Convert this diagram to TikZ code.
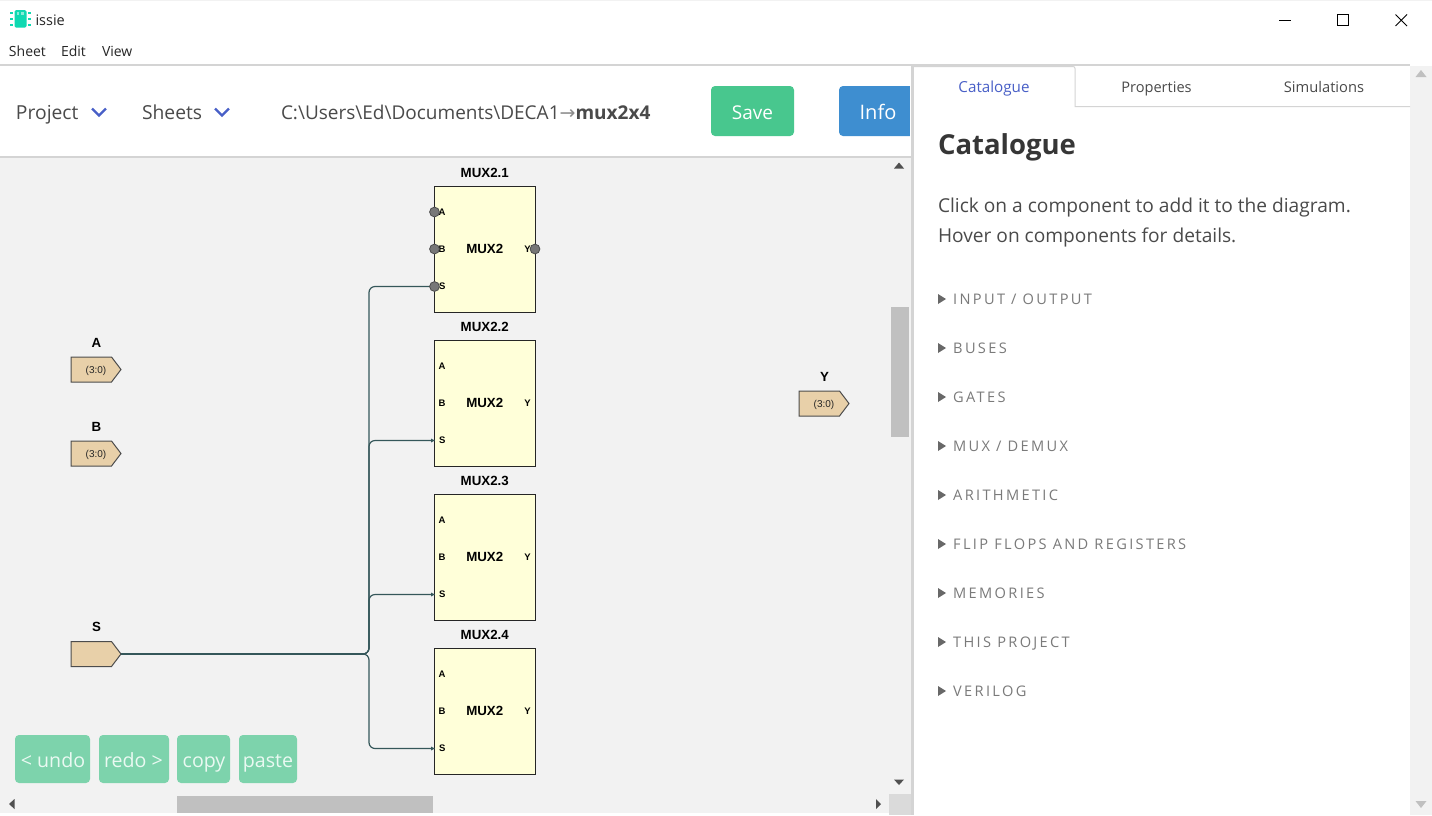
\documentclass[tikz,border=0pt]{standalone}
\usepackage{fontspec}
\setmainfont{Open Sans}
\newfontfamily\diafont{Liberation Sans}
\newfontfamily\arrfont{DejaVu Sans}
\usetikzlibrary{calc}
\definecolor{canvasbg}{HTML}{F2F2F2}
\definecolor{rulegrey}{HTML}{D4D4D4}
\definecolor{thumbgrey}{HTML}{C0C0C0}
\definecolor{txt}{HTML}{4A4A4A}
\definecolor{head}{HTML}{363636}
\definecolor{chev}{HTML}{485FC7}
\definecolor{saveg}{HTML}{48C78E}
\definecolor{infob}{HTML}{3E8ED0}
\definecolor{btn}{HTML}{7DD3AC}
\definecolor{btntxt}{HTML}{EAF9F2}
\definecolor{muxfill}{HTML}{FFFFD9}
\definecolor{ioFill}{HTML}{E8D0A9}
\definecolor{wirec}{HTML}{35575A}
\definecolor{portc}{HTML}{777777}
\definecolor{teal}{HTML}{0FD9B2}
\definecolor{itemc}{HTML}{7A7A7A}
\definecolor{arrowc}{HTML}{505050}
\tikzset{
  txtnode/.style={inner sep=0pt,outer sep=0pt,anchor=base west,text=txt},
  ctrtxt/.style={inner sep=0pt,outer sep=0pt,anchor=base,text=txt},
  muxbox/.style={draw=black!85,fill=muxfill,line width=1pt,minimum width=100.5pt,minimum height=125.5pt,inner sep=0pt,outer sep=0pt},
  muxname/.style={inner sep=0pt,anchor=base,font=\diafont\bfseries\fontsize{13.3}{14}\selectfont,text=black},
  muxport/.style={inner sep=0pt,anchor=base,font=\diafont\bfseries\fontsize{9.5}{10}\selectfont,text=black},
  ioshape/.style={draw=black!70,fill=ioFill,line width=1pt,line join=miter},
  ioname/.style={inner sep=0pt,anchor=base,font=\diafont\bfseries\fontsize{13.3}{14}\selectfont,text=black},
  iowidth/.style={inner sep=0pt,anchor=base,font=\diafont\fontsize{10}{10}\selectfont,text=black!85},
  wire/.style={draw=wirec,line width=1.2pt,rounded corners=6pt},
  mainwire/.style={draw=wirec,line width=2pt},
  portdot/.style={draw=black!70,fill=portc,line width=.8pt},
  actionbtn/.style={fill=btn,rounded corners=4pt},
  btnlabel/.style={inner sep=0pt,anchor=base,text=btntxt,font=\fontsize{19.6}{20}\selectfont},
  catitem/.style={inner sep=0pt,anchor=base west,text=itemc,font=\fontsize{14.6}{15}\selectfont\addfontfeature{LetterSpace=16}},
  scrollarrow/.style={fill=arrowc},
  chevline/.style={draw=chev,line width=2.4pt},
}
\newcommand{\muxblock}[3]{%
  \node[muxbox] (#1) at (484.75,#2+62.75) {};
  \node[muxname] (#1t) at (484.75,#2-9.5) {#3};
  \node[muxname] (#1c) at (484.75,#2+66.5) {MUX2};
  \node[muxport,anchor=base west] (#1a) at (438.5,#2+29) {A};
  \node[muxport,anchor=base west] (#1b) at (438.5,#2+66) {B};
  \node[muxport,anchor=base west] (#1s) at (439,#2+102.5) {S};
  \node[muxport,anchor=base east] (#1y) at (531,#2+66) {Y};
  \coordinate (#1sp) at (434.5,#2+100);
}
\newcommand{\ioblock}[5]{%
  \draw[ioshape] (#3,#2-12.5) -- (#3+40.5,#2-12.5) -- (#3+50,#2) -- (#3+40.5,#2+12.5) -- (#3,#2+12.5) -- cycle;
  \coordinate (#1out) at (#3+50,#2);
  \node[ioname] (#1n) at (#3+25.5,#2-22.5) {#4};
  \node[iowidth] (#1w) at (#3+25,#2+3.5) {#5};
}
\newcommand{\catline}[2]{%
  \fill[itemc!85!black] (938,#1-10) -- (946,#1-5) -- (938,#1) -- cycle;
  \node[catitem] at (953,#1) {#2};
}
\begin{document}
\begin{tikzpicture}[x=1pt,y=-1pt]
\useasboundingbox (0,0) rectangle (1432,815);
\fill[white] (0,0) rectangle (1432,815);
% top bar
\fill[rulegrey] (0,64) rectangle (1410,65.5);
\fill[canvasbg] (0,0) rectangle (1432,1);
% app icon
\fill[teal,rounded corners=1.5pt] (14.5,10) rectangle (26.5,27.5);
\foreach \yy in {13,19,25}{\fill[teal] (10,\yy-1) rectangle (13,\yy+1); \fill[teal] (28,\yy-1) rectangle (30.5,\yy+1);}
\fill[white,opacity=.5] (16.5,12) rectangle (19,14.5);
\fill[white,opacity=.5] (21,12) rectangle (23.5,14.5);
\node[txtnode,text=black!85,font=\fontsize{14.5}{15}\selectfont] (apptitle) at (35.5,25) {issie};
\node[txtnode,text=black!85,font=\fontsize{14}{15}\selectfont] (mSheet) at (9,56) {Sheet};
\node[txtnode,text=black!85,font=\fontsize{14}{15}\selectfont] (mEdit) at (61,56) {Edit};
\node[txtnode,text=black!85,font=\fontsize{14}{15}\selectfont] (mView) at (102,56) {View};
% window controls
\draw[black,line width=1pt] (1279,20) -- (1291,20);
\draw[black,line width=1pt] (1337.5,14.5) rectangle (1348.5,25.5);
\draw[black,line width=.9pt] (1395.5,14.5) -- (1407,26) (1407,14.5) -- (1395.5,26);
% toolbar
\node[txtnode,font=\fontsize{19.3}{20}\selectfont] (proj) at (16,119) {Project};
\draw[chevline] (92,108.5) -- (99,115.5) -- (106,108.5);
\node[txtnode,font=\fontsize{19.3}{20}\selectfont] (sheets) at (142,119) {Sheets};
\draw[chevline] (215,108.5) -- (222,115.5) -- (229,108.5);
\node[txtnode,font=\fontsize{19}{20}\selectfont] (path) at (281,119) {C:\symbol{92}Users\symbol{92}Ed\symbol{92}Documents\symbol{92}DECA1{\arrfont\color{black!45}→}\textbf{mux2x4}};
\fill[saveg,rounded corners=4pt] (711,86) rectangle (794,136);
\node[ctrtxt,text=white,font=\fontsize{19}{20}\selectfont] (save) at (752.5,119) {Save};
\fill[infob,rounded corners=4pt] (839,86) rectangle (920,136);
\fill[white] (910,80) rectangle (922,140);
\node[ctrtxt,text=white,font=\fontsize{20}{20}\selectfont] (info) at (878,119) {Info};
\fill[rulegrey] (0,156) rectangle (911,158);
% canvas
\fill[canvasbg] (0,158) rectangle (911,813);
% blocks
\muxblock{ma}{186.5}{MUX2.1}
\muxblock{mb}{340.5}{MUX2.2}
\muxblock{mc}{494.5}{MUX2.3}
\muxblock{md}{648.5}{MUX2.4}
\ioblock{ia}{369.5}{71}{A}{(3:0)}
\ioblock{ib}{453.5}{71}{B}{(3:0)}
\ioblock{is}{654}{71}{S}{}
\ioblock{oy}{403.5}{799}{Y}{(3:0)}
% wires
\coordinate (junc) at (369,654);
\draw[wire] (isout) -- (junc) |- (masp);
\draw[wire] (isout) -- (junc) |- (mbsp);
\draw[wire] (isout) -- (junc) |- (mcsp);
\draw[wire] (isout) -- (junc) |- (mdsp);
\draw[mainwire] (isout) -- ($(junc)+(-4,0)$);
\foreach \p in {mbsp,mcsp,mdsp}{\fill[wirec] (\p) -- ++(-3.5,-2) -- ++(0,4) -- cycle;}
% ports of first mux
\draw[portdot] (434.5,212) circle (4.9);
\draw[portdot] (434.5,249) circle (4.9);
\draw[portdot] (masp) circle (4.9);
\draw[portdot] (535,249) circle (4.9);
% buttons
\fill[actionbtn] (15,735) rectangle (90,783);
\fill[actionbtn] (99,735) rectangle (169,783);
\fill[actionbtn] (177,735) rectangle (230,783);
\fill[actionbtn] (239,735) rectangle (297,783);
\node[btnlabel] (undo) at (53,767) {< undo};
\node[btnlabel] (redo) at (133.5,767) {redo >};
\node[btnlabel] (copy) at (204,767) {copy};
\node[btnlabel] (paste) at (268,767) {paste};
% canvas scrollbars
\fill[thumbgrey] (891,307) rectangle (909,437);
\fill[thumbgrey] (177,796) rectangle (433,813);
\fill[rulegrey!80!canvasbg] (889,794) rectangle (911,815);
\fill[scrollarrow] (899,162.5) -- (904,168.5) -- (894,168.5) -- cycle;
\fill[scrollarrow] (899,785) -- (904,779.5) -- (894,779.5) -- cycle;
\fill[scrollarrow] (9,804) -- (14.5,799) -- (14.5,809) -- cycle;
\fill[scrollarrow] (881,804) -- (876,799) -- (876,809) -- cycle;
% divider + right panel
\fill[rulegrey] (911,65) rectangle (913.5,815);
\fill[canvasbg] (1410,66) rectangle (1432,815);
\draw[rulegrey,line width=1pt] (914,66.5) -- (1073,66.5) arc[start angle=-90,end angle=0,radius=2] -- (1075,106.5) -- (1410,106.5);
\node[ctrtxt,text=chev,font=\fontsize{15.2}{15}\selectfont] (tCat) at (994,92) {Catalogue};
\node[ctrtxt,font=\fontsize{14.6}{15}\selectfont] (tProp) at (1156.5,92) {Properties};
\node[ctrtxt,font=\fontsize{14.7}{15}\selectfont] (tSim) at (1324,92) {Simulations};
\node[txtnode,text=head,font=\bfseries\fontsize{27.5}{30}\selectfont] (hCat) at (938,154) {Catalogue};
\node[txtnode,font=\fontsize{19.15}{20}\selectfont] (p1) at (938,212) {Click on a component to add it to the diagram.};
\node[txtnode,font=\fontsize{19.15}{20}\selectfont] (p2) at (938,242) {Hover on components for details.};
\catline{304}{INPUT / OUTPUT}
\catline{353}{BUSES}
\catline{402}{GATES}
\catline{451}{MUX / DEMUX}
\catline{500}{ARITHMETIC}
\catline{549}{FLIP FLOPS AND REGISTERS}
\catline{598}{MEMORIES}
\catline{647}{THIS PROJECT}
\catline{696}{VERILOG}
\fill[thumbgrey] (1421,70) -- (1426.5,77) -- (1415.5,77) -- cycle;
\fill[thumbgrey] (1421,808) -- (1426.5,801) -- (1415.5,801) -- cycle;
\end{tikzpicture}
\end{document}
